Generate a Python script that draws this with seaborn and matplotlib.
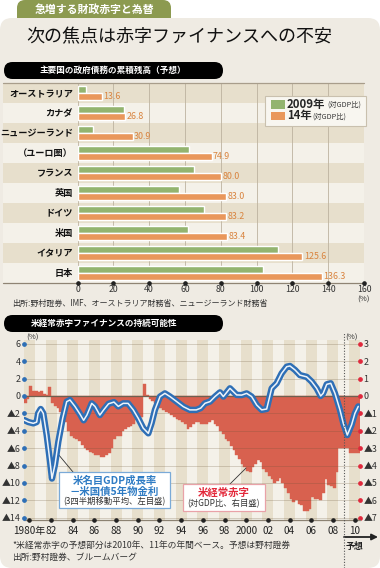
import numpy as np
import pandas as pd
import matplotlib
matplotlib.use("Agg")
import matplotlib.pyplot as plt
import seaborn as sns
from matplotlib.patches import FancyBboxPatch, Rectangle
from matplotlib.transforms import Affine2D

# ---------------- data: government debt (% of GDP) ----------------
countries = ["オーストラリア", "カナダ", "ニュージーランド", "（ユーロ圏）", "フランス",
             "英国", "ドイツ", "米国", "イタリア", "日本"]
debt_2009 = [4.7, 26.1, 8.7, 62.3, 65.3, 56.9, 70.7, 61.7, 112.0, 103.6]
debt_2014 = [13.6, 26.8, 30.9, 74.9, 80.0, 83.0, 83.2, 83.4, 125.6, 136.3]
debt_ticks = [0, 20, 40, 60, 80, 100, 120, 140, 160]

# ---------------- data: US current account (quarterly, % of GDP, right axis) ----------------
ca_start = 1980
ca_quarterly = [
    -0.4, -0.2, 0.6, 0.3,     # 1980
    0.3, 0.2, 0.3, 0.1,       # 1981
    0.05, 0.5, -0.4, -0.6,    # 1982
    -0.7, -0.9, -1.2, -1.5,   # 1983
    -2.0, -2.3, -2.4, -2.5,   # 1984
    -2.6, -2.8, -3.0, -3.1,   # 1985
    -3.2, -3.3, -3.4, -3.4,   # 1986
    -3.5, -3.5, -3.4, -3.3,   # 1987
    -3.0, -2.5, -2.3, -2.3,   # 1988
    -2.0, -1.9, -1.8, -1.7,   # 1989
    -1.6, -1.4, -1.5, -1.2,   # 1990
    0.7, 0.05, -0.2, -0.3,    # 1991
    -0.4, -0.6, -0.7, -0.8,   # 1992
    -0.9, -1.0, -1.1, -1.2,   # 1993
    -1.3, -1.4, -1.5, -1.6,   # 1994
    -1.9, -1.8, -1.6, -1.5,   # 1995
    -1.5, -1.6, -1.6, -1.6,   # 1996
    -1.5, -1.4, -1.6, -1.7,   # 1997
    -2.0, -2.2, -2.5, -2.6,   # 1998
    -2.9, -3.1, -3.4, -3.6,   # 1999
    -3.9, -4.1, -4.3, -4.4,   # 2000
    -4.1, -3.9, -3.7, -3.8,   # 2001
    -4.2, -4.4, -4.6, -4.8,   # 2002
    -5.0, -4.9, -4.7, -5.0,   # 2003
    -5.3, -5.6, -5.9, -6.1,   # 2004
    -6.0, -6.2, -6.3, -6.6,   # 2005
    -6.6, -6.5, -5.8, -5.9,   # 2006
    -5.9, -6.0, -5.6, -4.8,   # 2007
    -5.1, -5.2, -5.3, -4.4,   # 2008
    -3.0, -3.0,               # 2009
]
ca_forecast_years = [2010, 2011]
ca_forecast = [-3.0, -3.3]

# nominal GDP growth - 5y treasury yield (3Q moving avg, left axis)
gap_t = [1980.0, 1980.4, 1980.86, 1981.17, 1981.3, 1981.54, 1981.78, 1982.09, 1982.4, 1982.58,
         1982.86, 1983.17, 1983.57, 1983.94, 1984.24, 1984.7, 1985.17, 1985.5, 1985.8, 1986.25,
         1986.55, 1987.0, 1987.35, 1987.8, 1988.3, 1988.7, 1989.15, 1989.6, 1990.08, 1990.54,
         1991.0, 1991.47, 1991.78, 1992.08, 1992.55, 1993.0, 1993.47, 1994.09, 1994.7, 1995.3,
         1995.9, 1996.3, 1996.7, 1997.16, 1997.62, 1998.08, 1998.39, 1999.0, 1999.62, 2000.08,
         2000.54, 2001.0, 2001.47, 2001.93, 2002.39, 2002.85, 2003.31, 2003.77, 2004.24, 2004.54,
         2005.0, 2005.46, 2006.08, 2006.54, 2007.0, 2007.37, 2007.6, 2007.93, 2008.3, 2008.69,
         2009.15, 2009.46, 2009.83, 2010.23, 2010.53, 2010.84]
gap_v = [-2.76, -3.0, -3.15, -3.0, -2.0, -1.5, -2.0, -4.5, -7.55, -9.5,
         -7.9, -5.25, -2.57, -0.65, -0.46, -1.2, -2.1, -2.8, -2.2, -0.85,
         -1.2, -2.2, -1.6, -0.9, -0.7, -1.2, -0.85, -0.85, -1.6, -2.57,
         -3.7, -4.3, -3.1, -1.6, -0.07, 0.3, -0.07, -0.65, -1.23, -1.6,
         -1.6, -1.4, -0.84, -0.65, -0.07, 0.42, -0.07, 0.88, 0.12, 0.1,
         0.3, -0.07, -1.04, -1.6, -1.5, 0.88, 1.46, 2.6, 3.37, 3.45,
         3.0, 2.4, 2.2, 1.65, 0.88, 0.0, 0.3, 1.34, 1.46, 0.3,
         -1.6, -3.15, -4.5, -3.3, -2.0, -1.2]

left_ticks = [-14, -12, -10, -8, -6, -4, -2, 0, 2, 4, 6]
right_ticks = [-7, -6, -5, -4, -3, -2, -1, 0, 1, 2, 3]
year_ticks = list(range(1980, 2011, 2))

# ---------------- style ----------------
sns.set_style("white")
plt.rcParams["font.family"] = ["Noto Sans CJK JP", "DejaVu Sans"]

W, H = 380, 568
PANEL = "#efebe3"
BAND_DARK = "#e7dfcc"
BAND_LIGHT = "#f4f1e9"
GREEN = "#93b46f"
ORANGE = "#e9975b"
ORANGE_TXT = "#d9843f"
RED = "#d8614f"
BLUE = "#2e6fb6"
BLUE_TXT = "#2f7cc4"

fig = plt.figure(figsize=(W / 100, H / 100), dpi=100)
fig.patch.set_facecolor("white")

# pixel coords with origin top-left
px = Affine2D().scale(1, -1).translate(0, H) + Affine2D().scale(1 / W, 1 / H) + fig.transFigure


def box(x0, y0, x1, y1, r=0, **kw):
    style = f"round,pad=0,rounding_size={r}" if r else "square,pad=0"
    p = FancyBboxPatch((x0, y0), x1 - x0, y1 - y0, boxstyle=style, transform=px, **kw)
    fig.add_artist(p)
    return p


def text(x, y, s, **kw):
    kw.setdefault("va", "center")
    return fig.text(x / W, 1 - y / H, s, **kw)


def axes_px(x0, y0, x1, y1):
    return fig.add_axes([x0 / W, 1 - y1 / H, (x1 - x0) / W, (y1 - y0) / H])


# background panel and header tab
box(17, 0, 171, 26, r=8, fc="#8c9a50", ec="none", zorder=-3)
box(0, 18, 380, 568, r=12, fc=PANEL, ec="none", zorder=-2)
text(94, 9, "急増する財政赤字と為替", color="white", weight="bold", size=7.8, ha="center")
text(26, 37, "次の焦点は赤字ファイナンスへの不安", size=13, color="#111")

# section pills
box(4, 62, 223, 79, r=8.5, fc="black", ec="none", zorder=-1)
text(113, 70.5, "主要国の政府債務の累積残高（予想）", color="white", weight="bold", size=6.2, ha="center")
box(4, 315, 223, 332, r=8.5, fc="black", ec="none", zorder=-1)
text(104, 323.5, "米経常赤字ファイナンスの持続可能性", color="white", weight="bold", size=6.2, ha="center")

# ---------------- debt bar chart ----------------
ax_b = axes_px(77.5, 83, 364, 282.5)
ax_b.patch.set_visible(False)
df_debt = pd.DataFrame({
    "国": countries * 2,
    "債務": debt_2009 + debt_2014,
    "年": ["2009年"] * len(countries) + ["14年"] * len(countries),
})
sns.barplot(data=df_debt, y="国", x="債務", hue="年", orient="h", palette=[GREEN, ORANGE],
            width=0.7, gap=0, saturation=1, errorbar=None, legend=False, ax=ax_b, zorder=3)

xm = (3 - 77.5) / (364 - 77.5)
for i in range(len(countries)):
    ax_b.axhspan(i - 0.5, i + 0.5, xmin=xm, xmax=1, color=BAND_DARK if i % 2 == 0 else BAND_LIGHT,
                 lw=0, zorder=0, clip_on=False)
for v in debt_ticks:
    ax_b.axvline(v, color="#bdb29f", lw=0.6, zorder=1)
ax_b.axhline(-0.5, xmin=xm, xmax=1, color="#a89d8b", lw=0.9, zorder=2, clip_on=False)
ax_b.axhline(len(countries) - 0.5, xmin=xm, xmax=1, color="#8f8474", lw=0.9, zorder=2, clip_on=False)

ax_b.bar_label(ax_b.containers[1], fmt="%.1f", padding=1, fontsize=6.4, color=ORANGE_TXT)
ax_b.plot(debt_ticks, [len(countries) - 0.5] * len(debt_ticks), "o", ms=2.3, color="#222",
          clip_on=False, zorder=5)

ax_b.set_xlim(0, 160)
ax_b.set_ylim(len(countries) - 0.5, -0.5)
ax_b.set_xticks(debt_ticks)
ax_b.set_xlabel("")
ax_b.set_ylabel("")
ax_b.tick_params(axis="x", length=0, pad=1.5, labelsize=6.3, colors="#333")
ax_b.tick_params(axis="y", length=0, pad=3.3, labelsize=6.6)
for lab in ax_b.get_yticklabels():
    lab.set_fontweight("bold")
    lab.set_color("#111")
for s in ax_b.spines.values():
    s.set_visible(False)
text(364, 299.5, "(%)", size=5.6, ha="center", color="#333")
text(12, 303.5, "出所:野村證券、IMF、オーストラリア財務省、ニュージーランド財務省", size=5.8, color="#333")

# legend
box(265, 96, 366, 126, fc="#f8f6f0", ec="#c9c0ae", lw=0.8, zorder=5)
fig.add_artist(Rectangle((271, 100), 14, 9, transform=px, fc=GREEN, ec="none", zorder=6))
fig.add_artist(Rectangle((271, 112), 14, 8, transform=px, fc=ORANGE, ec="none", zorder=6))
text(287, 104.5, "2009年", weight="bold", size=8.2, zorder=6)
text(327, 105, "(対GDP比)", size=5.2, color="#333", zorder=6)
text(287, 116, "14年", weight="bold", size=8.2, zorder=6)
text(312, 116.5, "(対GDP比)", size=5.2, color="#333", zorder=6)

# ---------------- current account / growth gap chart ----------------
ax_l = axes_px(24, 340, 360, 520)
ax_r = ax_l.twinx()
ax_r.set_zorder(0.5)
ax_l.set_zorder(1)
ax_l.patch.set_visible(False)

x_end = ca_forecast_years[-1]
for k, yr in enumerate(range(ca_start, x_end)):
    ax_r.axvspan(yr, yr + 1, color=BAND_DARK if k % 2 == 0 else BAND_LIGHT, lw=0, zorder=0)

t_q = ca_start + np.arange(len(ca_quarterly)) * 0.25
t_actual_end = ca_start + len(ca_quarterly) * 0.25
ax_r.bar([y - 1 for y in ca_forecast_years], ca_forecast, width=1.0, align="edge",
         color=RED, ec=RED, lw=0.3, zorder=1)
ax_r.bar(t_q, ca_quarterly, width=0.25, align="edge", color=RED, ec=RED, lw=0.3, zorder=2)

for v in left_ticks:
    if v != 0:
        ax_r.axhline(v / 2, color=(0.42, 0.33, 0.22, 0.28), lw=0.6, zorder=3)
ax_r.axhline(0, color="#6e6050", lw=0.9, zorder=3)

sns.lineplot(x=gap_t, y=gap_v, ax=ax_l, color=BLUE, lw=4.6, zorder=4, legend=False,
             solid_capstyle="round", solid_joinstyle="round")
sns.lineplot(x=gap_t, y=gap_v, ax=ax_l, color="#eef4fa", lw=1.1, zorder=5, legend=False,
             solid_capstyle="round", solid_joinstyle="round")

ax_l.set_xlim(ca_start, x_end)
ax_l.set_ylim(-14.27, 6.44)
ax_r.set_ylim(-7.135, 3.22)

ax_l.set_yticks(left_ticks, [f"▲{-v}" if v < 0 else str(v) for v in left_ticks])
ax_r.set_yticks(right_ticks, [f"▲{-v}" if v < 0 else str(v) for v in right_ticks])
ax_l.tick_params(axis="y", length=0, pad=2.5, labelsize=6.4, colors="#333")
ax_r.tick_params(axis="y", length=0, pad=2.5, labelsize=6.4, colors="#333")
xt = [y + 0.5 for y in year_ticks]
xl = ["1980年" if y == 1980 else ("2000" if y == 2000 else f"{y % 100:02d}") for y in year_ticks]
ax_l.set_xticks(xt, xl)
ax_l.tick_params(axis="x", length=0, pad=4.5, labelsize=7.2, colors="#222")
ax_l.set_xlabel("")
ax_l.set_ylabel("")
for s in ["left", "right", "top"]:
    ax_l.spines[s].set_visible(False)
ax_l.spines["bottom"].set_color("#8c8272")
ax_l.spines["bottom"].set_linewidth(0.9)
for s in ax_r.spines.values():
    s.set_visible(False)

ax_l.plot([ca_start] * len(left_ticks), left_ticks, "o", ms=2.4, color=BLUE, clip_on=False, zorder=6)
ax_r.plot([x_end] * len(right_ticks), right_ticks, "o", ms=2.4, color="#e0283c", clip_on=False, zorder=6)
ax_l.plot(xt, [-14.27] * len(xt), "o", ms=2.3, color="#222", clip_on=False, zorder=6)

ax_l.axvline(t_actual_end, ymin=-0.267, ymax=1.04, clip_on=False, ls=(0, (1, 1.5)), color="#555", lw=0.8, zorder=6)
text(26, 338, "(%)", size=5.6, color="#333")
text(345, 338, "(%)", size=5.6, color="#333")

# annotation boxes
box(59, 472, 170, 508, fc="white", ec="#7aaad8", lw=0.9, zorder=6)
text(114.5, 481, "米名目GDP成長率", color=BLUE_TXT, weight="bold", size=7.5, ha="center", zorder=7)
text(114.5, 491.5, "－米国債5年物金利", color=BLUE_TXT, weight="bold", size=7.5, ha="center", zorder=7)
text(114.5, 502, "(3四半期移動平均、左目盛)", color="#333", size=6, ha="center", zorder=7)
ax_l.annotate("", xy=(1983.22, -6.8), xytext=(73, H - 472), textcoords="figure pixels",
              arrowprops=dict(arrowstyle="-", color="#333", lw=0.6, shrinkA=0, shrinkB=0))

box(183, 484, 265, 511, fc="white", ec="#e9a2a8", lw=0.9, zorder=6)
text(224, 492.5, "米経常赤字", color="#e3283a", weight="bold", size=7.5, ha="center", zorder=7)
text(224, 503.5, "(対GDP比、右目盛)", color="#333", size=6, ha="center", zorder=7)
ax_r.annotate("", xy=(2000.48, -4.15), xytext=(230, H - 484), textcoords="figure pixels",
              arrowprops=dict(arrowstyle="-", color="#333", lw=0.6, shrinkA=0, shrinkB=0))

# forecast marker and notes
ax_l.annotate("", xy=(378, H - 537), xytext=(344, H - 537), xycoords="figure pixels",
              textcoords="figure pixels",
              arrowprops=dict(arrowstyle="-|>", color="#222", lw=1.3, mutation_scale=9,
                              shrinkA=0, shrinkB=0))
text(354, 547, "予想", weight="bold", size=6.4, ha="center", color="#222")
text(12, 545, "*米経常赤字の予想部分は2010年、11年の年間ベース。予想は野村證券", size=6.3, color="#333")
text(12, 557, "出所:野村證券、ブルームバーグ", size=6.3, color="#333")

fig.savefig("out.png", dpi=100)
